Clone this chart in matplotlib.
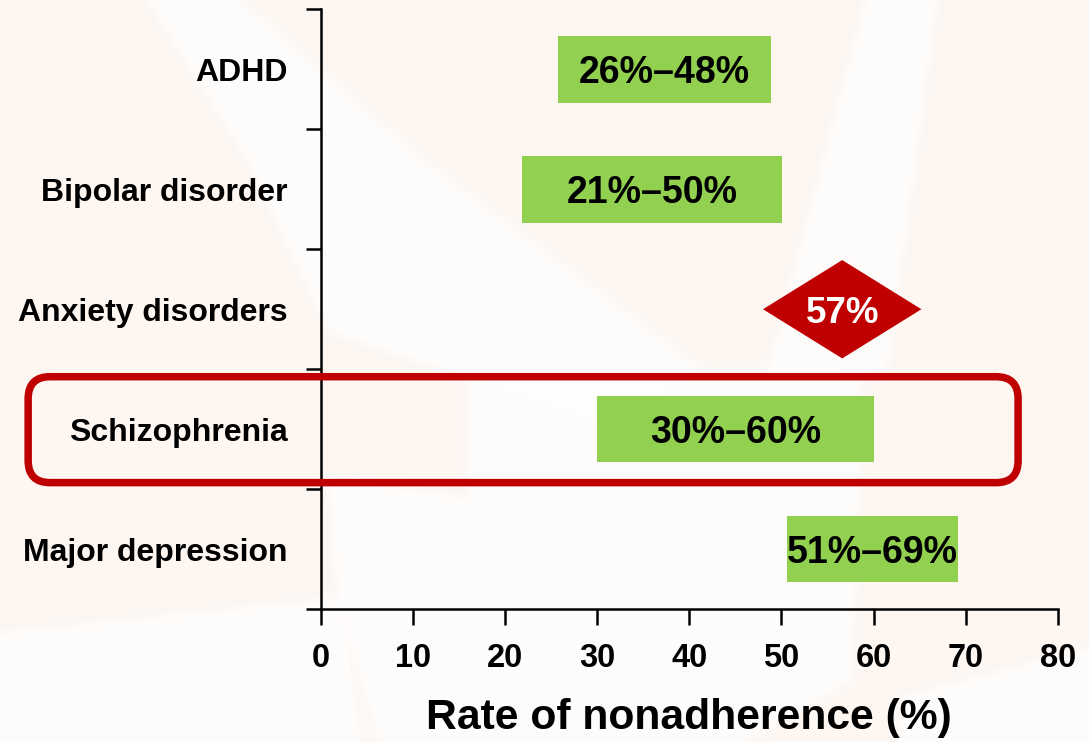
import matplotlib
matplotlib.use("Agg")
import matplotlib.pyplot as plt
from matplotlib.patches import Polygon, FancyBboxPatch

plt.rcParams["font.family"] = ["Liberation Sans", "DejaVu Sans"]
plt.rcParams["font.weight"] = "bold"

# --- data -----------------------------------------------------------------
categories = ["ADHD", "Bipolar disorder", "Anxiety disorders",
              "Schizophrenia", "Major depression"]

range_categories = ["ADHD", "Bipolar disorder", "Schizophrenia", "Major depression"]
range_low = [25.7, 21.8, 30.0, 50.6]
range_high = [48.9, 50.1, 60.0, 69.2]
range_labels = ["26%–48%", "21%–50%", "30%–60%", "51%–69%"]

point_category = "Anxiety disorders"
point_value = 56.6
point_label = "57%"

highlight_category = "Schizophrenia"

x_ticks = [0, 10, 20, 30, 40, 50, 60, 70, 80]
x_label = "Rate of nonadherence (%)"

# --- styling --------------------------------------------------------------
GREEN = "#92D050"
RED = "#C00000"
PEACH = "#FDF6F1"

W, H, DPI = 1089, 742, 100
fig = plt.figure(figsize=(W / DPI, H / DPI), dpi=DPI, facecolor=PEACH)


def px(x, y):
    # pixel (top-left origin) -> figure fraction
    return (x / W, 1 - y / H)


# soft white swooshes in the background (layered for softer edges)
swooshes = [
    [(150, 0), (238, 0), (420, 160), (700, 370), (600, 420), (330, 330), (250, 160)],
    [(470, 380), (860, 370), (850, 680), (740, 742), (380, 742), (340, 600), (330, 480), (470, 500)],
    [(868, 0), (935, 0), (885, 370), (770, 370)],
    [(0, 635), (340, 600), (360, 742), (0, 742)],
    [(900, 700), (1089, 650), (1089, 742), (900, 742)],
]
for pts in swooshes:
    for lw, a in [(18, 0.15), (8, 0.25), (0, 0.5)]:
        fig.patches.append(Polygon([px(*p) for p in pts], closed=True, facecolor="white",
                                   edgecolor="white", linewidth=lw, joinstyle="round",
                                   alpha=a, transform=fig.transFigure, zorder=-1))

ax_left, ax_right = 321 / W, 1057.7 / W
ax_top, ax_bottom = 1 - 9.5 / H, 1 - 609 / H
ax = fig.add_axes([ax_left, ax_bottom, ax_right - ax_left, ax_top - ax_bottom])
ax.patch.set_alpha(0)

ypos = {c: i for i, c in enumerate(categories)}
ax.set_xlim(0, 80)
ax.set_ylim(len(categories) - 0.5, -0.5)

# range bars
ys = [ypos[c] for c in range_categories]
widths = [h - l for l, h in zip(range_low, range_high)]
ax.barh(ys, widths, left=range_low, height=0.555, color=GREEN, zorder=3)
for y, lo, hi, lab in zip(ys, range_low, range_high, range_labels):
    ax.text((lo + hi) / 2, y, lab, ha="center", va="center_baseline", fontsize=27,
            fontweight="bold", color="black", zorder=4)

# point estimate diamond
cy = ypos[point_category]
hw, hh = 8.6, 0.41
ax.add_patch(Polygon([(point_value - hw, cy), (point_value, cy - hh),
                      (point_value + hw, cy), (point_value, cy + hh)],
                     closed=True, facecolor=RED, edgecolor="none", zorder=3))
ax.text(point_value, cy, point_label, ha="center", va="center_baseline", fontsize=26.5,
        fontweight="bold", color="white", zorder=4)

# highlight box around schizophrenia row
ax_w_px = (ax_right - ax_left) * W
ax_h_px = (ax_top - ax_bottom) * H
x_unit = ax_w_px / 80
y_unit = ax_h_px / len(categories)
hy = ypos[highlight_category]
box = FancyBboxPatch((-31.8, hy - 0.4375), 75.7 + 31.8, 0.8835,
                     boxstyle=f"round,pad=0,rounding_size={22 / x_unit:.3f}",
                     mutation_aspect=x_unit / y_unit,
                     facecolor="none", edgecolor=RED, linewidth=5.4,
                     transform=ax.transData, clip_on=False, zorder=5)
ax.add_patch(box)

# axes
for side in ("top", "right"):
    ax.spines[side].set_visible(False)
for side in ("left", "bottom"):
    ax.spines[side].set_linewidth(1.8)
    ax.spines[side].set_color("black")

ax.set_xticks(x_ticks)
ax.set_xticklabels([str(t) for t in x_ticks], fontsize=23.5, fontweight="bold")
ax.tick_params(axis="x", direction="out", length=11.5, width=1.8, pad=13)

ax.set_yticks(range(len(categories)))
ax.set_yticklabels(categories, fontsize=23, fontweight="bold", va="center_baseline")
ax.tick_params(axis="y", which="major", length=0, pad=24)
ax.set_yticks([i - 0.5 for i in range(len(categories) + 1)], minor=True)
ax.tick_params(axis="y", which="minor", direction="out", length=11, width=1.8)

ax.set_xlabel(x_label, fontsize=30.7, fontweight="bold", labelpad=17)

fig.savefig("out.png", dpi=DPI, facecolor=fig.get_facecolor())
